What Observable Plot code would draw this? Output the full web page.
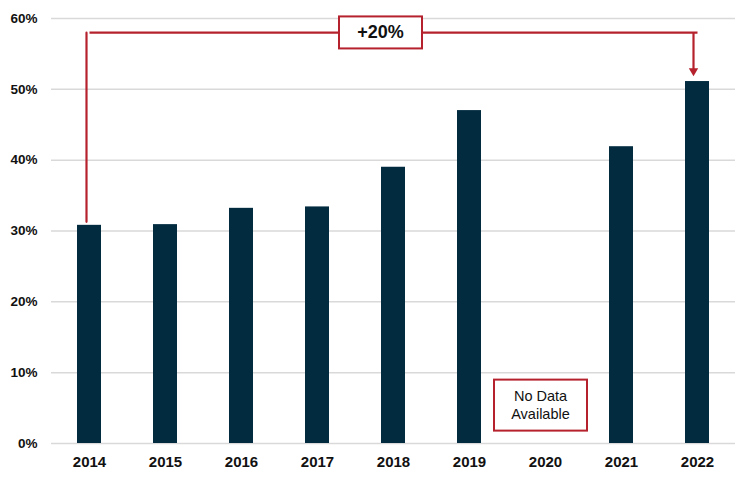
<!DOCTYPE html>
<html>
<head>
<meta charset="utf-8">
<script src="https://cdn.jsdelivr.net/npm/d3@7"></script>
<script src="https://cdn.jsdelivr.net/npm/@observablehq/plot@0.6"></script>
<style>
  html, body { margin: 0; padding: 0; background: #fff; }
  #chart { width: 750px; height: 480px; }
  g[aria-label="y-axis tick label"] { font-size: 13.5px; font-weight: bold; }
  g[aria-label="x-axis tick label"] { font-size: 15px; font-weight: bold; }
</style>
</head>
<body>
<div id="chart"></div>
<script>
const years = ["2014","2015","2016","2017","2018","2019","2020","2021","2022"];
const barYears = ["2014","2015","2016","2017","2018","2019","2021","2022"];
const barValues = [30.8, 30.9, 33.2, 33.4, 39.0, 47.0, 41.9, 51.1];
const yTicks = [0, 10, 20, 30, 40, 50, 60];
const changeLabel = "+20%";
const noDataLabel = "No Data\nAvailable";
const noDataYear = "2020";

const bars = barYears.map((y, i) => ({year: y, value: barValues[i]}));
const first = bars[0], last = bars[bars.length - 1];
const bracketTop = 58;
const bracketPath = [
  {year: first.year, value: first.value + 0.5},
  {year: first.year, value: bracketTop}
];
const bracketTopPath = [
  {year: first.year, value: bracketTop, dx: -3},
  {year: last.year, value: bracketTop, dx: -4}
];

const red = "#b5222d";
const navy = "#022b40";

const chart = Plot.plot({
  width: 750,
  height: 480,
  marginLeft: 51,
  marginRight: 15,
  marginTop: 18,
  marginBottom: 37,
  style: {fontFamily: "Liberation Sans, Arial, sans-serif", background: "#fff"},
  x: {domain: years, paddingInner: 0.684, paddingOuter: 0.342, align: 0.5, label: null, tickSize: 0},
  y: {domain: [0, 60], ticks: yTicks, label: null, tickSize: 0},
  marks: [
    Plot.gridY(yTicks, {stroke: "#d9d9d9", strokeOpacity: 1, strokeWidth: 1.5}),
    Plot.barY(bars, {x: "year", y: "value", fill: navy}),
    Plot.axisY(yTicks, {tickSize: 0, tickPadding: 14, tickFormat: d => d + "%", fill: "#111"}),
    Plot.axisX(years, {tickSize: 0, tickPadding: 13, fill: "#111"}),
    // left leg of the bracket
    Plot.line(bracketPath, {x: "year", y: "value", stroke: red, strokeWidth: 2.2, dx: -3}),
    // horizontal span
    Plot.link([{x1: first.year, x2: last.year, y: bracketTop}], {
      x1: "x1", x2: "x2", y1: "y", y2: "y", stroke: red, strokeWidth: 2.2,
      transform: null
    }),
    // right leg (arrow shaft)
    Plot.link([{x: last.year, y1: bracketTop, y2: 52.8}], {
      x1: "x", x2: "x", y1: "y1", y2: "y2", stroke: red, strokeWidth: 2.2, dx: -4
    }),
    // filled arrow head
    Plot.dot([{x: last.year, y: 52.6}], {
      x: "x", y: "y", symbol: "triangle", rotate: 180, r: 3.5, fill: red, stroke: "none", dx: -4
    }),
    Plot.text([{year: "2018", value: bracketTop, label: changeLabel}], {
      x: "year", y: "value", text: "label", dx: -13, fontSize: 18, fontWeight: "bold", fill: "#111",
      className: "boxed-big"
    }),
    Plot.text([{year: noDataYear, value: 5.5, label: noDataLabel}], {
      x: "year", y: "value", text: "label", dx: -5, fontSize: 14.5, fill: "#111", lineHeight: 1.2,
      className: "boxed-small"
    })
  ]
});

document.getElementById("chart").appendChild(chart);

// The horizontal span should run from the left leg to the right leg (offset legs)
chart.querySelectorAll('g[aria-label="link"] line').forEach((l, i) => {
  if (i === 0) {
    l.setAttribute("x1", +l.getAttribute("x1") - 4);
    l.setAttribute("x2", +l.getAttribute("x2") - 4);
  }
});

// Draw framed boxes behind annotation texts, centred on the text bounds
function boxAround(cls, w, h) {
  chart.querySelectorAll("g." + cls).forEach(g => {
    g.querySelectorAll("text").forEach(t => {
      const bb = t.getBBox();
      const cx = bb.x + bb.width / 2, cy = bb.y + bb.height / 2;
      const rect = document.createElementNS("http://www.w3.org/2000/svg", "rect");
      rect.setAttribute("x", cx - w / 2);
      rect.setAttribute("y", cy - h / 2);
      rect.setAttribute("width", w);
      rect.setAttribute("height", h);
      rect.setAttribute("fill", "#fff");
      rect.setAttribute("stroke", red);
      rect.setAttribute("stroke-width", 2);
      const tr = t.getAttribute("transform");
      if (tr) rect.setAttribute("transform", tr);
      t.parentNode.insertBefore(rect, t);
    });
  });
}
boxAround("boxed-big", 83, 32);
boxAround("boxed-small", 93, 51);
</script>
</body>
</html>
